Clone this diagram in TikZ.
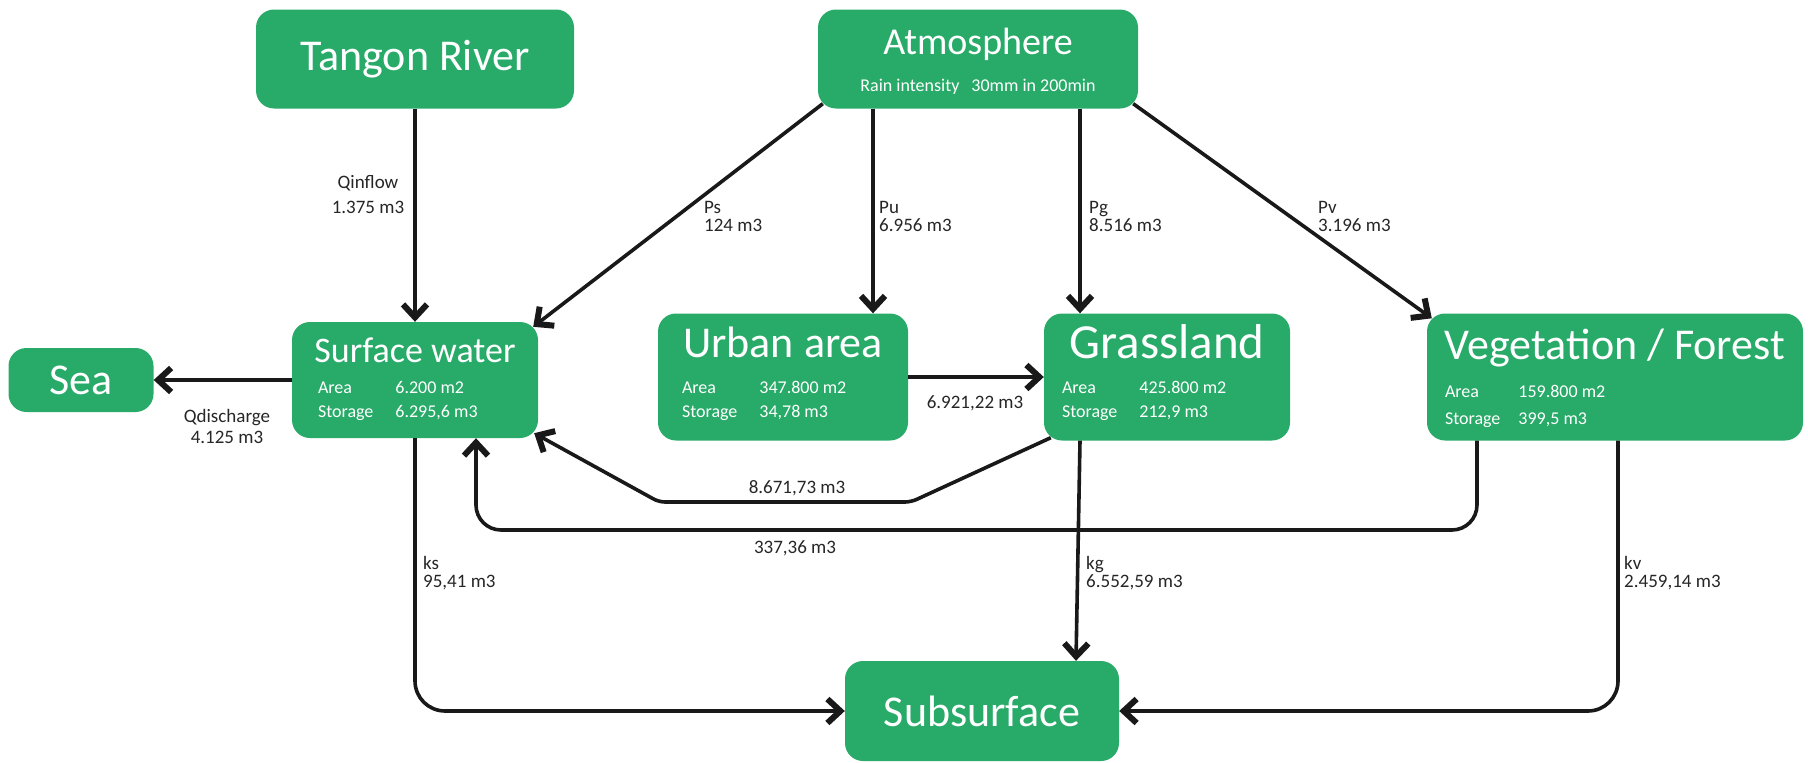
\documentclass[tikz,border=0pt]{standalone}
\usepackage{fontspec}
\setmainfont{Carlito}
\usepackage{tikz}
\usetikzlibrary{positioning}
\usetikzlibrary{arrows.meta}
\definecolor{boxgreen}{RGB}{40,170,104}

\begin{document}
\begin{tikzpicture}[x=1pt,y=-1pt]
        \tikzset{box/.style = {fill=boxgreen, rounded corners=18pt, inner sep=0pt, text=white}}
        \tikzset{boxtitle/.style = {text=white, inner sep=0pt, anchor=base}}
        \tikzset{boxinfo/.style = {text=white, inner sep=0pt, anchor=base west, font=\fontsize{18}{24}\selectfont}}
        \tikzset{flow/.style = {line width=3.6pt, black!90, -{Straight Barb[length=13pt,width=24pt,line width=6pt]}}}
        \tikzset{flowlabel/.style = {inner sep=0pt, text=black!85, align=left, anchor=west, font=\fontsize{19}{18}\selectfont}}

        \useasboundingbox (0,0) rectangle (1808,763);

        % boxes
        \node[box, minimum width=318pt, minimum height=99pt, font=\fontsize{44}{48}\selectfont] (river) at (415,59) {Tangon River};
        \node[box, minimum width=320pt, minimum height=99pt] (atm) at (978,59) {};
        \node[box, minimum width=246pt, minimum height=116pt] (surf) at (415,380) {};
        \node[box, minimum width=145pt, minimum height=64pt, font=\fontsize{44}{48}\selectfont] (sea) at (81,380) {Sea};
        \node[box, minimum width=250pt, minimum height=127pt] (urban) at (783,377) {};
        \node[box, minimum width=246pt, minimum height=127pt] (grass) at (1167,377) {};
        \node[box, minimum width=376pt, minimum height=127pt] (veg) at (1615,377) {};
        \node[box, minimum width=274pt, minimum height=100pt, font=\fontsize{44}{48}\selectfont] (sub) at (982,711) {Subsurface};

        % box texts
        \node[boxtitle, font=\fontsize{38}{42}\selectfont] (atmT) at ([yshift=-45pt]atm.north) {Atmosphere};
        \node[boxtitle, font=\fontsize{18}{24}\selectfont] (atmI) at ([yshift=-82pt]atm.north) {Rain intensity\hspace{12pt}30mm in 200min};

        \node[boxtitle, font=\fontsize{36}{40}\selectfont] (surfT) at ([yshift=-41pt]surf.north) {Surface water};
        \node[boxinfo] (surfI) at ([xshift=26pt,yshift=-72pt]surf.north west) {\begin{tabular}[t]{@{}l@{\hspace{22pt}}l@{}}Area & 6.200 m2\\ Storage & 6.295,6 m3\end{tabular}};

        \node[boxtitle, font=\fontsize{44}{48}\selectfont] (urbanT) at ([yshift=-44pt]urban.north) {Urban area};
        \node[boxinfo] (urbanI) at ([xshift=24pt,yshift=-80pt]urban.north west) {\begin{tabular}[t]{@{}l@{\hspace{22pt}}l@{}}Area & 347.800 m2\\ Storage & 34,78 m3\end{tabular}};

        \node[boxtitle, font=\fontsize{49}{52}\selectfont] (grassT) at ([yshift=-45pt]grass.north) {Grassland};
        \node[boxinfo] (grassI) at ([xshift=18pt,yshift=-80pt]grass.north west) {\begin{tabular}[t]{@{}l@{\hspace{22pt}}l@{}}Area & 425.800 m2\\ Storage & 212,9 m3\end{tabular}};

        \node[boxtitle, font=\fontsize{44}{48}\selectfont] (vegT) at ([yshift=-46pt]veg.north) {Vegetation / Forest};
        \node[boxinfo] (vegI) at ([xshift=18pt,yshift=-84pt]veg.north west) {\begin{tabular}[t]{@{}l@{\hspace{18pt}}l@{}}Area & 159.800 m2\\[3pt] Storage & 399,5 m3\end{tabular}};

        % inflow and discharge
        \draw[flow] (river) -- (surf);
        \draw[flow] (surf.west |- sea.east) -- (sea.east);

        % rain
        \draw[flow] ([xshift=5pt,yshift=5pt]atm.south west) -- ([xshift=-5pt,yshift=-5pt]surf.north east);
        \draw[flow] ([xshift=-105pt]atm.south) -- ([xshift=-105pt]atm.south |- urban.north);
        \draw[flow] ([xshift=102pt]atm.south) -- ([xshift=102pt]atm.south |- grass.north);
        \draw[flow] ([xshift=-5pt,yshift=5pt]atm.south east) -- ([xshift=5pt,yshift=-5pt]veg.north west);

        % runoff
        \draw[flow] (urban.east) -- (grass.west);
        \draw[flow, rounded corners=6pt] ([xshift=7pt,yshift=3pt]grass.south west) -- (911,502) -- (659,502) -- ([xshift=-4pt,yshift=5pt]surf.south east);
        \draw[flow, rounded corners=25pt] ([xshift=-138pt]veg.south) |- (700,530) -| ([xshift=61pt]surf.south);

        % infiltration
        \draw[flow, rounded corners=30pt] (surf.south) |- (sub.west);
        \draw[flow] ([xshift=-87pt]grass.south) -- ([xshift=-91pt]grass.south |- sub.north);
        \draw[flow, rounded corners=30pt] ([xshift=3pt]veg.south) |- (sub.east);

        % flow labels
        \node[flowlabel, align=center, anchor=center, font=\fontsize{19}{25}\selectfont] (qin) at (368,195) {Qinflow\\1.375 m3};
        \node[flowlabel, align=center, anchor=center, font=\fontsize{19}{21}\selectfont] (qdis) at (227,426) {Qdischarge\\4.125 m3};
        \node[flowlabel] (ps) at (704,216) {Ps\\124 m3};
        \node[flowlabel] (pu) at (879,216) {Pu\\6.956 m3};
        \node[flowlabel] (pg) at (1089,216) {Pg\\8.516 m3};
        \node[flowlabel] (pv) at (1318,216) {Pv\\3.196 m3};
        \node[flowlabel, anchor=center] (ug) at (975,403) {6.921,22 m3};
        \node[flowlabel, anchor=center] (gs) at (797,488) {8.671,73 m3};
        \node[flowlabel, anchor=center] (vs) at (795,548) {337,36 m3};
        \node[flowlabel] (ks) at (423,573) {ks\\95,41 m3};
        \node[flowlabel] (kg) at (1086,573) {kg\\6.552,59 m3};
        \node[flowlabel] (kv) at (1624,573) {kv\\2.459,14 m3};
\end{tikzpicture}
\end{document}
